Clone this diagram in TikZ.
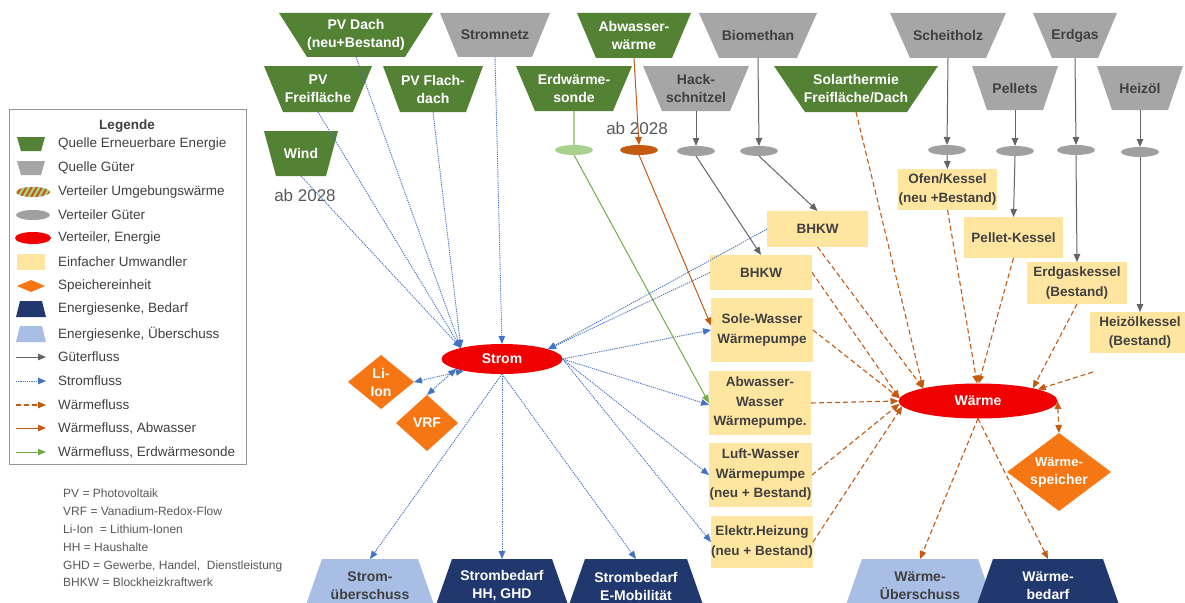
\documentclass[tikz,border=0pt]{standalone}
\usepackage{fontspec}
\setmainfont{Liberation Sans}
\usetikzlibrary{arrows.meta,shapes.geometric,patterns.meta}

\definecolor{srcgreen}{RGB}{84,130,53}
\definecolor{srcgray}{RGB}{166,166,166}
\definecolor{boxyellow}{RGB}{255,230,160}
\definecolor{hubred}{RGB}{240,0,0}
\definecolor{storeorange}{RGB}{247,118,20}
\definecolor{sinkdark}{RGB}{32,56,110}
\definecolor{sinklight}{RGB}{168,190,228}
\definecolor{flowblue}{RGB}{68,114,196}
\definecolor{flowgray}{RGB}{100,100,100}
\definecolor{flowheat}{RGB}{197,90,17}
\definecolor{flowgreen}{RGB}{112,173,71}
\definecolor{distgreen}{RGB}{169,209,142}
\definecolor{distgray}{RGB}{160,160,160}
\definecolor{txtdark}{RGB}{64,64,64}
\definecolor{txtgray}{RGB}{89,89,89}
\definecolor{framegray}{RGB}{150,150,150}

\tikzset{
  lbl/.style={font=\fontsize{14}{18}\selectfont\bfseries, align=center, inner sep=0pt, outer sep=0pt},
  conv/.style={lbl, fill=boxyellow, text=txtdark, font=\fontsize{13.5}{19.5}\selectfont\bfseries},
  hub/.style={lbl, ellipse, fill=hubred, text=white},
  dist/.style={ellipse, inner sep=0pt, outer sep=0pt, minimum width=38, minimum height=10},
  legtext/.style={anchor=west, inner sep=0pt, text=txtdark, font=\fontsize{13.5}{16}\selectfont},
  note/.style={inner sep=0pt, text=txtgray, font=\fontsize{17}{20}\selectfont},
  sfl/.style={color=flowblue, line width=0.9pt, dash pattern=on 1.2pt off 1pt, -{Triangle[length=8pt,width=6.5pt]}},
  sfl2/.style={sfl, {Triangle[length=8pt,width=6.5pt]}-{Triangle[length=8pt,width=6.5pt]}},
  gfl/.style={color=flowgray, line width=1pt, -{Triangle[length=8pt,width=6.5pt]}},
  wfl/.style={color=flowheat, line width=1.1pt, dash pattern=on 5pt off 3pt, -{Triangle[length=8pt,width=6.5pt]}},
  wfl2/.style={wfl, {Triangle[length=8pt,width=6.5pt]}-{Triangle[length=8pt,width=6.5pt]}},
  afl/.style={color=flowheat, line width=1pt, -{Triangle[length=8pt,width=6.5pt]}},
  efl/.style={color=flowgreen, line width=1pt, -{Triangle[length=8pt,width=6.5pt]}},
  eline/.style={color=distgreen, line width=1.4pt},
}

% inverted trapezoid source: name, cx, top y, bottom y, top half width, bottom half width, fill, text colour, text
\newcommand\srcnode[9]{%
  \fill[#7] (#2-#5,#3) -- (#2+#5,#3) -- (#2+#6,#4) -- (#2-#6,#4) -- cycle;
  \node[lbl, text=#8, minimum width={2*#6}, minimum height={#4-#3}] (#1) at (#2,{(#3+#4)/2}) {#9};
}
% sink trapezoid at the lower edge: name, cx, top half width, fill, text colour, text
\newcommand\sinknode[6]{%
  \fill[#4] (#2-#3,559) -- (#2+#3,559) -- (#2+#3+22,622) -- (#2-#3-22,622) -- cycle;
  \node[lbl, text=#5, minimum width={2*#3}, minimum height=54] (#1) at (#2,586) {#6};
}
% storage diamond: name, cx, cy, half width, half height, text
\newcommand\diamnode[6]{%
  \fill[storeorange] (#2-#4,#3) -- (#2,#3-#5) -- (#2+#4,#3) -- (#2,#3+#5) -- cycle;
  \node[lbl, text=white, minimum width={2*#4}, minimum height={2*#5}] (#1) at (#2,#3) {#6};
}

\begin{document}
\begin{tikzpicture}[x=1pt,y=-1pt]
\useasboundingbox (0,0) rectangle (1185,602);
\clip (0,0) rectangle (1185,602);
\fill[white] (0,0) rectangle (1185,602);

% ---------- sources ----------
\srcnode{pvdach}{356}{13}{57}{77}{49}{srcgreen}{white}{PV Dach\\(neu+Bestand)}
\srcnode{stromnetz}{495}{13}{57}{55}{37}{srcgray}{txtdark}{Stromnetz}
\srcnode{abw}{634}{13}{58}{57}{38}{srcgreen}{white}{Abwasser-\\wärme}
\srcnode{biometh}{758}{13}{58}{59}{39}{srcgray}{txtdark}{Biomethan}
\srcnode{scheit}{948}{13}{58}{58}{38}{srcgray}{txtdark}{Scheitholz}
\srcnode{erdgas}{1075}{13}{58}{42}{23}{srcgray}{txtdark}{Erdgas}
\srcnode{pvfrei}{318}{66}{112}{54}{35}{srcgreen}{white}{PV\\Freifläche}
\srcnode{pvflach}{433}{66}{112}{50}{33}{srcgreen}{white}{PV Flach-\\dach}
\srcnode{erdsonde}{574}{66}{111}{58}{39}{srcgreen}{white}{Erdwärme-\\sonde}
\srcnode{hack}{696}{66}{111}{53}{34}{srcgray}{txtdark}{Hack-\\schnitzel}
\srcnode{solar}{856}{66}{112}{82}{51}{srcgreen}{white}{Solarthermie\\Freifläche/Dach}
\srcnode{pellets}{1015}{66}{110}{43}{28}{srcgray}{txtdark}{Pellets}
\srcnode{heizoel}{1140}{66}{110}{43}{28}{srcgray}{txtdark}{Heizöl}
\srcnode{wind}{301}{131}{176}{37}{25}{srcgreen}{white}{Wind}

\node[note] (ab1) at (305,195) {ab 2028};

% ---------- distributors ----------
\node[dist, fill=distgreen] (derd) at (574,150) {};
\node[dist, fill=flowheat] (dabw) at (639,150) {};
\node[dist, fill=distgray] (dhack) at (696,151) {};
\node[dist, fill=distgray] (dbio) at (759,151) {};
\node[dist, fill=distgray] (dscheit) at (947,150) {};
\node[dist, fill=distgray] (dpell) at (1015,151) {};
\node[dist, fill=distgray] (dgas) at (1076,150) {};
\node[dist, fill=distgray] (doel) at (1140,152) {};

% ---------- converters ----------
\node[conv, minimum width=101, minimum height=36] (bhkwa) at (817.5,229) {BHKW};
\node[conv, minimum width=102, minimum height=35] (bhkwb) at (761,272.5) {BHKW};
\node[conv, minimum width=102, minimum height=64] (sole) at (762,330) {Sole-Wasser\\Wärmepumpe};
\node[conv, minimum width=102, minimum height=64] (awwp) at (760,403) {Abwasser-\\Wasser\\Wärmepumpe.};
\node[conv, minimum width=103, minimum height=64] (luft) at (760.5,475) {Luft-Wasser\\Wärmepumpe\\(neu + Bestand)};
\node[conv, minimum width=102, minimum height=52] (elek) at (762,542) {Elektr.Heizung\\(neu + Bestand)};
\node[conv, minimum width=99, minimum height=41] (ofen) at (947.5,189.5) {Ofen/Kessel\\(neu +Bestand)};
\node[conv, minimum width=99, minimum height=41] (pellet) at (1013.5,237.5) {Pellet-Kessel};
\node[conv, minimum width=100, minimum height=42] (erdk) at (1077,283) {Erdgaskessel\\(Bestand)};
\node[conv, minimum width=100, minimum height=41] (hoel) at (1140,332.5) {Heizölkessel\\(Bestand)};
\coordinate (hoelout) at (1093,372);

% ---------- energy hubs ----------
\node[hub, minimum width=121, minimum height=30] (strom) at (502,359) {Strom};
\node[hub, minimum width=159, minimum height=35] (waerme) at (978,401) {Wärme};

% ---------- storage ----------
\diamnode{liion}{381}{382}{33}{27}{Li-\\Ion}
\diamnode{vrf}{427}{423}{31}{28}{VRF}
\diamnode{wsp}{1059}{472}{52}{39}{\fontsize{13}{18}\selectfont Wärme-\\speicher}

% ---------- sinks ----------
\sinknode{sueber}{370}{48}{sinklight}{txtdark}{Strom-\\überschuss}
\sinknode{shh}{502}{50}{sinkdark}{white}{Strombedarf\\HH, GHD}
\sinknode{semob}{636}{51}{sinkdark}{white}{Strombedarf\\E-Mobilität}
\sinknode{wueber}{920}{58}{sinklight}{txtdark}{Wärme-\\Überschuss}
\sinknode{wbedarf}{1048}{55}{sinkdark}{white}{Wärme-\\bedarf}

% ---------- goods flows ----------
\draw[gfl] (hack.south) -- (dhack.north);
\draw[gfl] (biometh.south) -- (dbio.north);
\draw[gfl] (dhack.south) -- (bhkwb.north);
\draw[gfl] (dbio.south) -- (bhkwa.north);
\draw[gfl] (scheit.south) -- (dscheit.north);
\draw[gfl] (dscheit.south) -- (ofen.north);
\draw[gfl] (pellets.south) -- (dpell.north);
\draw[gfl] (dpell.south) -- (pellet.north);
\draw[gfl] (erdgas.south) -- (dgas.north);
\draw[gfl] (dgas.south) -- (erdk.north);
\draw[gfl] (heizoel.south) -- (doel.north);
\draw[gfl] (doel.south) -- (hoel.north);

% ---------- ground probe and waste water ----------
\draw[eline] (erdsonde.south) -- (derd.north);
\draw[efl] (derd.south) -- (awwp.west);
\draw[afl] (abw.south) -- (dabw.north);
\draw[afl] (dabw.south) -- (sole.175);
\node[note] (ab2) at (637,128) {ab 2028};

% ---------- electricity flows ----------
\draw[sfl] (pvdach.south) -- (strom.165);
\draw[sfl] (pvfrei.south) -- (strom.165);
\draw[sfl] (pvflach.south) -- (strom.165);
\draw[sfl] (wind.south) -- (strom.165);
\draw[sfl] (stromnetz.south) -- (strom.north);
\draw[sfl] (bhkwa.west) -- (strom.12);
\draw[sfl] (bhkwb.west) -- (strom.12);
\draw[sfl] (strom.east) -- (sole.west);
\draw[sfl] (strom.east) -- (awwp.182);
\draw[sfl] (strom.east) -- (luft.west);
\draw[sfl] (strom.east) -- (elek.west);
\draw[sfl] (strom.south) -- (sueber.north);
\draw[sfl] (strom.south) -- (shh.north);
\draw[sfl] (strom.south) -- (semob.north);
\draw[sfl2] (liion.east) -- (strom.197);
\draw[sfl2] (vrf.north) -- (strom.192);

% ---------- heat flows ----------
\draw[wfl] (solar.south) -- (waerme.167);
\draw[wfl] (bhkwa.south) -- (waerme.167);
\draw[wfl] (bhkwb.east) -- (waerme.178);
\draw[wfl] (sole.east) -- (waerme.178);
\draw[wfl] (awwp.east) -- (waerme.west);
\draw[wfl] (luft.east) -- (waerme.182);
\draw[wfl] (elek.east) -- (waerme.184);
\draw[wfl] (ofen.south) -- (waerme.93);
\draw[wfl] (pellet.south) -- (waerme.88);
\draw[wfl] (erdk.south) -- (waerme.13);
\draw[wfl] (hoelout) -- (waerme.11);
\draw[wfl2] (waerme.east) -- (wsp.north);
\draw[wfl] (waerme.south) -- (wueber.north);
\draw[wfl] (waerme.south) -- (wbedarf.north);

% ---------- legend ----------
\draw[framegray, line width=1pt] (9,109) rectangle (246,464);
\node[inner sep=0pt, text=txtdark, font=\fontsize{13.5}{16}\selectfont\bfseries] (legtitle) at (127,126) {Legende};
\fill[srcgreen] (17,137) -- (45,137) -- (41,151) -- (21,151) -- cycle;
\fill[srcgray] (17,161) -- (45,161) -- (41,175) -- (21,175) -- cycle;
\fill[distgreen] (33,192) ellipse [x radius=17, y radius=5];
\fill[pattern={Lines[angle=60,distance=4.5pt,line width=2pt]}, pattern color=flowheat] (33,192) ellipse [x radius=17, y radius=5];
\fill[distgray] (33,215) ellipse [x radius=17, y radius=5];
\fill[hubred] (33,238) ellipse [x radius=18, y radius=6];
\fill[boxyellow] (17,254) rectangle (45,270);
\fill[storeorange] (17,286) -- (31,280) -- (45,286) -- (31,292) -- cycle;
\fill[sinkdark] (20,301) -- (42,301) -- (46,317) -- (16,317) -- cycle;
\fill[sinklight] (20,326) -- (42,326) -- (46,342) -- (16,342) -- cycle;
\draw[gfl] (16,357) -- (46,357);
\draw[sfl] (16,381) -- (46,381);
\draw[wfl] (16,405) -- (46,405);
\draw[afl] (16,428) -- (46,428);
\draw[efl] (16,452) -- (46,452);
\node[legtext] at (58,144) {Quelle Erneuerbare Energie};
\node[legtext] at (58,168) {Quelle Güter};
\node[legtext] at (58,192) {Verteiler Umgebungswärme};
\node[legtext] at (58,215) {Verteiler Güter};
\node[legtext] at (58,238) {Verteiler, Energie};
\node[legtext] at (58,262) {Einfacher Umwandler};
\node[legtext] at (58,286) {Speichereinheit};
\node[legtext] at (58,309) {Energiesenke, Bedarf};
\node[legtext] at (58,334) {Energiesenke, Überschuss};
\node[legtext] at (58,357) {Güterfluss};
\node[legtext] at (58,381) {Stromfluss};
\node[legtext] at (58,405) {Wärmefluss};
\node[legtext] at (58,428) {Wärmefluss, Abwasser};
\node[legtext] at (58,452) {Wärmefluss, Erdwärmesonde};

% ---------- abbreviations ----------
\node[anchor=north west, align=left, inner sep=0pt, text=txtgray, font=\fontsize{12}{17.8}\selectfont] (abbr) at (63,489)
  {PV = Photovoltaik\\VRF = Vanadium-Redox-Flow\\Li-Ion \ = Lithium-Ionen\\HH = Haushalte\\GHD = Gewerbe, Handel, \ Dienstleistung\\BHKW = Blockheizkraftwerk};
\end{tikzpicture}
\end{document}
